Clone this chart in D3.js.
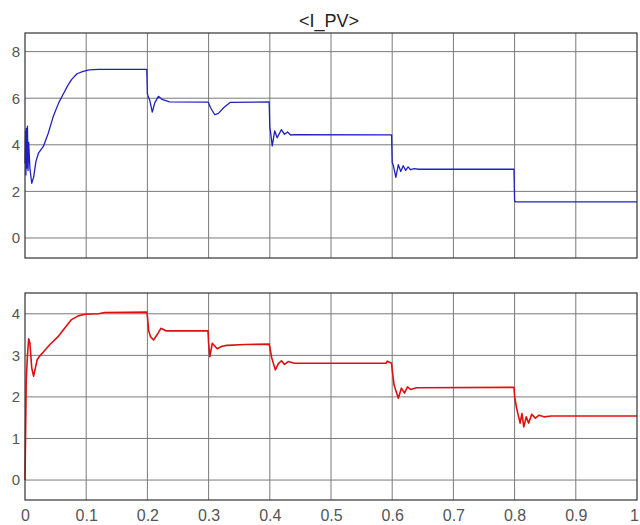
<!DOCTYPE html>
<html>
<head>
<meta charset="utf-8">
<script src="https://cdn.jsdelivr.net/npm/d3@7"></script>
<style>
body { margin: 0; background: #fff; }
text { font-family: "Liberation Sans", Arial, sans-serif; }
</style>
</head>
<body>
<svg id="chart" width="640" height="525"></svg>
<script>
// upper panel, blue trace
let tTop = [0, 0.001, 0.0015, 0.002, 0.003, 0.004, 0.005, 0.006, 0.008, 0.011, 0.014, 0.018, 0.022, 0.03, 0.038, 0.046, 0.055, 0.063, 0.07, 0.076, 0.085, 0.095, 0.105, 0.12, 0.199,
  0.2, 0.201, 0.204, 0.208, 0.212, 0.218, 0.224, 0.236, 0.299,
  0.3, 0.303, 0.31, 0.316, 0.325, 0.335, 0.399,
  0.4, 0.401, 0.404, 0.408, 0.412, 0.419, 0.424, 0.429, 0.434, 0.44, 0.599,
  0.6, 0.602, 0.606, 0.61, 0.614, 0.618, 0.622, 0.626, 0.63, 0.636, 0.643, 0.799,
  0.8, 0.802, 1.0];
let iTop = [3.2, 4.6, 2.7, 4.7, 3.0, 4.8, 2.9, 4.1, 3.0, 2.35, 2.6, 3.3, 3.64, 3.93, 4.5, 5.2, 5.8, 6.2, 6.55, 6.8, 7.05, 7.15, 7.22, 7.24, 7.24,
  6.2, 6.1, 5.9, 5.4, 5.8, 6.08, 5.95, 5.84, 5.83,
  5.8, 5.6, 5.29, 5.35, 5.6, 5.82, 5.84,
  4.75, 4.6, 3.95, 4.6, 4.3, 4.65, 4.45, 4.55, 4.42, 4.44, 4.43,
  3.25, 3.1, 2.6, 3.15, 2.85, 3.1, 2.9, 3.05, 2.93, 2.98, 2.95, 2.95,
  1.58, 1.55, 1.55];

// lower panel, red trace
let tBot = [0, 0.001, 0.002, 0.004, 0.006, 0.008, 0.011, 0.014, 0.017, 0.02, 0.025, 0.03, 0.04, 0.054, 0.065, 0.076, 0.087, 0.098, 0.12, 0.13, 0.199,
  0.2, 0.202, 0.205, 0.21, 0.216, 0.222, 0.23, 0.299,
  0.3, 0.302, 0.306, 0.314, 0.322, 0.33, 0.36, 0.399,
  0.4, 0.403, 0.409, 0.414, 0.419, 0.424, 0.43, 0.44, 0.59, 0.592, 0.599,
  0.6, 0.603, 0.606, 0.61, 0.615, 0.62, 0.625, 0.63, 0.64, 0.799,
  0.8, 0.803, 0.809, 0.812, 0.815, 0.819, 0.823, 0.828, 0.834, 0.84, 0.848, 0.86, 1.0];
let iBot = [0, 1.2, 2.4, 3.0, 3.4, 3.3, 2.7, 2.5, 2.7, 2.9, 3.0, 3.08, 3.25, 3.45, 3.66, 3.86, 3.95, 3.99, 4.0, 4.03, 4.04,
  3.95, 3.6, 3.45, 3.37, 3.5, 3.65, 3.59, 3.59,
  3.3, 2.97, 3.29, 3.16, 3.22, 3.24, 3.26, 3.27,
  3.2, 2.95, 2.65, 2.8, 2.87, 2.78, 2.85, 2.81, 2.81, 2.86, 2.81,
  2.65, 2.29, 2.15, 1.97, 2.21, 2.09, 2.24, 2.18, 2.22, 2.23,
  2.01, 1.75, 1.37, 1.6, 1.28, 1.52, 1.37, 1.58, 1.49, 1.56, 1.52, 1.54, 1.54];

let xTicks = [0, 0.1, 0.2, 0.3, 0.4, 0.5, 0.6, 0.7, 0.8, 0.9, 1];
let yTicksTop = [0, 2, 4, 6, 8];
let yTicksBot = [0, 1, 2, 3, 4];

let svg = d3.select("#chart");

let x = d3.scaleLinear().domain([0, 1]).range([25, 637]);

function panel(top, bottom, yDomain, yTicks, tData, vData, color, width, showX) {
    let y = d3.scaleLinear().domain(yDomain).range([bottom, top]);
    let g = svg.append("g");

    // grid
    g.selectAll(".vg").data(xTicks.slice(1, -1)).enter().append("line")
        .attr("x1", d => x(d)).attr("x2", d => x(d))
        .attr("y1", top).attr("y2", bottom)
        .attr("stroke", "#7a7a7a").attr("stroke-width", 1)
    g.selectAll(".hg").data(yTicks).enter().append("line")
        .attr("x1", 25).attr("x2", 637)
        .attr("y1", d => y(d)).attr("y2", d => y(d))
        .attr("stroke", "#7a7a7a").attr("stroke-width", 1)

    // y labels
    g.append("g").attr("transform", "translate(25,0)")
        .call(d3.axisLeft(y).tickValues(yTicks).tickSize(0).tickPadding(5).tickFormat(d3.format("")))
        .call(a => a.select(".domain").remove())
        .selectAll("text").attr("font-size", 15).attr("fill", "#555")
        .style("font-family", "'Liberation Sans', Arial, sans-serif");

    if (showX) {
        g.append("g").attr("transform", "translate(0," + bottom + ")")
            .call(d3.axisBottom(x).tickValues(xTicks).tickSize(0).tickPadding(10).tickFormat(d3.format("")))
            .call(a => a.select(".domain").remove())
            .selectAll("text").attr("font-size", 16).attr("fill", "#555")
            .style("font-family", "'Liberation Sans', Arial, sans-serif")
            .attr("dx", d => d == 1 ? -3 : 0);
    }

    let pts = tData.map((t, i) => [t, vData[i]]);
    let line = d3.line().x(d => x(d[0])).y(d => y(d[1]));
    g.append("path").datum(pts)
        .attr("d", line)
        .attr("fill", "none")
        .attr("stroke", color)
        .attr("stroke-width", width)
        .attr("stroke-linejoin", "round")

    // frame
    g.append("rect")
        .attr("x", 25).attr("y", top)
        .attr("width", 612).attr("height", bottom - top)
        .attr("fill", "none").attr("stroke", "#333").attr("stroke-width", 1.2)
}

panel(33, 258, [-0.86, 8.8], yTicksTop, tTop, iTop, "#2020c0", 1.3, false);
panel(293, 500, [-0.48, 4.5], yTicksBot, tBot, iBot, "#e01010", 1.6, true);

svg.append("text")
    .attr("x", 329).attr("y", 27)
    .attr("text-anchor", "middle")
    .attr("font-size", 18)
    .attr("fill", "#222")
    .text("<I_PV>")
</script>
</body>
</html>
